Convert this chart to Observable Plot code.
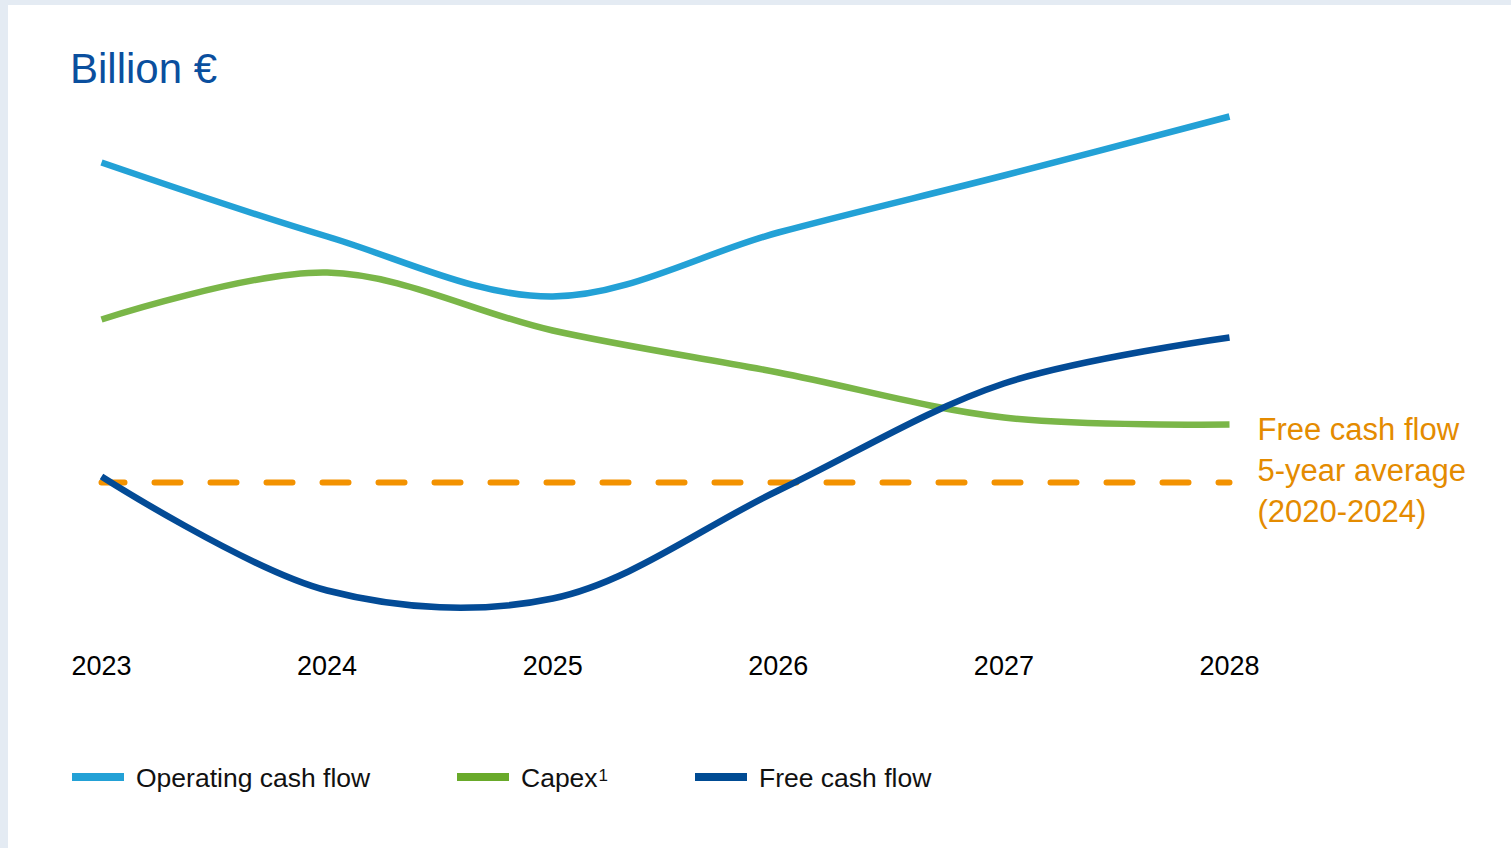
<!DOCTYPE html>
<html>
<head>
<meta charset="utf-8">
<script src="https://cdn.jsdelivr.net/npm/d3@7"></script>
<script src="https://cdn.jsdelivr.net/npm/@observablehq/plot@0.6"></script>
<style>
  html, body { margin: 0; padding: 0; }
  body { width: 1511px; height: 848px; background: #e4ebf3; overflow: hidden; font-family: "Liberation Sans", Arial, sans-serif; }
  #panel { position: absolute; left: 8px; top: 5px; width: 1503px; height: 843px; background: #fff; }
  #title { position: absolute; left: 62px; top: 43px; font-size: 42px; line-height: 1; color: #0a4f9e; white-space: nowrap; }
  #chart { position: absolute; left: 0; top: 0; }
  .leg { position: absolute; top: 760px; display: flex; align-items: center; font-size: 26.5px; line-height: 1; color: #111; white-space: nowrap; }
  .leg .sw { width: 52px; height: 8px; margin-right: 12px; position: relative; top: -1px; }
  .leg sup { font-size: 17px; position: relative; top: -3px; vertical-align: top; margin-left: 1px; }
</style>
</head>
<body>
<div id="panel">
  <div id="title">Billion €</div>
  <div id="chart"></div>
  <div id="legend"></div>
</div>
<script>
// Data (arbitrary units, no axis in original)
const years = [2023, 2024, 2025, 2026, 2027, 2028];
const operatingCashFlow = [10.36, 8.88, 7.68, 8.96, 10.10, 11.28];
const capex = [7.22, 8.16, 7.00, 6.16, 5.26, 5.12];
const freeCashFlow = [4.08, 1.80, 1.64, 3.80, 5.94, 6.86];
const fcfAverage = 3.96;
const averageLabel = "Free cash flow\n5-year average\n(2020-2024)";

const seriesNames = ["Operating cash flow", "Capex", "Free cash flow"];
const seriesLineColors = ["#23a1d6", "#7ab648", "#034b96"];
const seriesLegendColors = ["#23a1d6", "#69aa2a", "#004b93"];
const seriesSup = ["", "1", ""];
const legendX = [64, 449, 687];

const seriesValues = [operatingCashFlow, capex, freeCashFlow];
const rows = seriesNames.flatMap((name, i) =>
  years.map((yr, j) => ({series: name, year: yr, value: seriesValues[i][j]})));
const avgRows = [{year: years[0], value: fcfAverage}, {year: years[years.length - 1], value: fcfAverage}];

const chart = Plot.plot({
  width: 1503,
  height: 700,
  marginLeft: 93,
  marginRight: 282,
  marginTop: 0,
  marginBottom: 53,
  style: {fontFamily: "Liberation Sans, Arial, sans-serif", background: "transparent", overflow: "visible"},
  x: {type: "linear", domain: [2023, 2028], axis: null},
  y: {domain: [0, 12], range: [675, 75], axis: null},
  marks: [
    Plot.lineY(avgRows, {x: "year", y: "value", stroke: "#f39200", strokeWidth: 6,
      strokeDasharray: "26,30", strokeDashoffset: 3, strokeLinecap: "round"}),
    ...seriesNames.map((name, i) =>
      Plot.lineY(rows.filter(d => d.series === name), {
        x: "year", y: "value", stroke: seriesLineColors[i], strokeWidth: 6.5,
        curve: "catmull-rom", strokeLinecap: "butt"
      })),
    Plot.text([{year: years[years.length - 1], value: fcfAverage, label: averageLabel}], {
      x: "year", y: "value", text: "label", dx: 28, dy: -15, textAnchor: "start",
      lineAnchor: "middle", lineHeight: 1.32, fontSize: 31, fill: "#e48b00"
    }),
    Plot.axisX(years, {tickSize: 0, tickPadding: 3, fontSize: 27, tickFormat: d => String(d),
      color: "#000", label: null})
  ]
});
document.getElementById("chart").appendChild(chart);

const legend = document.getElementById("legend");
seriesNames.forEach((name, i) => {
  const item = document.createElement("div");
  item.className = "leg";
  item.style.left = legendX[i] + "px";
  const sw = document.createElement("span");
  sw.className = "sw";
  sw.style.background = seriesLegendColors[i];
  item.appendChild(sw);
  const t = document.createElement("span");
  t.textContent = name;
  item.appendChild(t);
  if (seriesSup[i]) {
    const s = document.createElement("sup");
    s.textContent = seriesSup[i];
    item.appendChild(s);
  }
  legend.appendChild(item);
});
</script>
</body>
</html>
